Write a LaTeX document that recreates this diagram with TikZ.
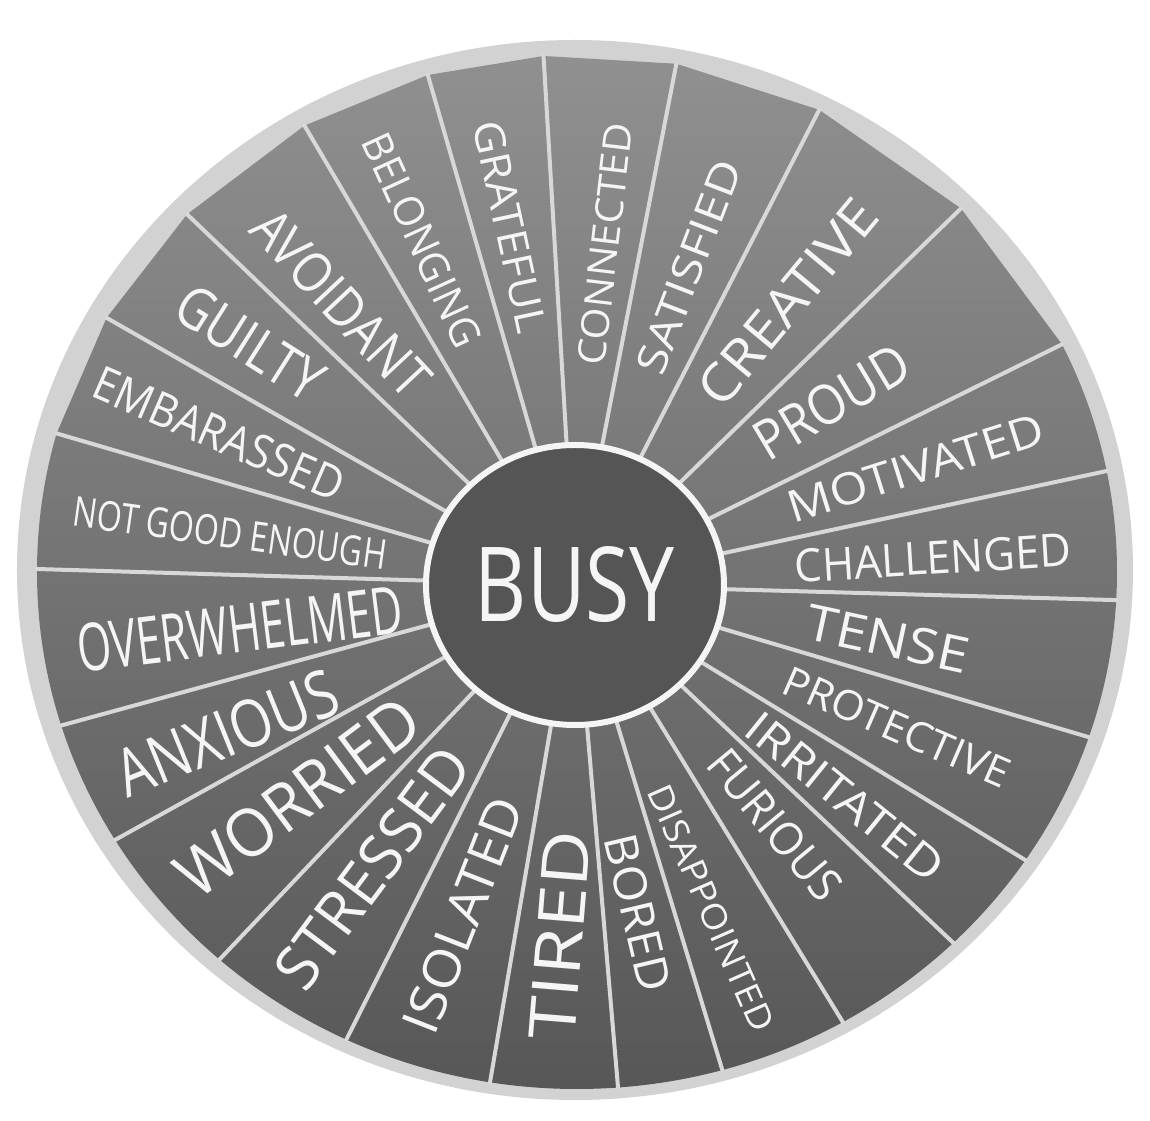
\documentclass[tikz,border=0pt]{standalone}
\usepackage{fontspec}
\usepackage{graphicx}
\usetikzlibrary{intersections,shapes.geometric}
\newfontfamily\wheelfont{Open Sans}
\newlength\pxu
\setlength\pxu{0.01cm}
\definecolor{rimgray}{HTML}{D2D2D2}
\definecolor{sectortop}{HTML}{909090}
\definecolor{sectorbottom}{HTML}{575757}
\definecolor{hubgray}{HTML}{555555}
\definecolor{chalk}{HTML}{F5F5F5}
\definecolor{linegray}{HTML}{D8D8D8}
\newcommand\chalktext[3]{\resizebox{#1\pxu}{#2\pxu}{\wheelfont #3}}

\begin{document}
\begin{tikzpicture}[x=0.01cm,y=0.01cm,
    divider/.style={draw=linegray,line width=4\pxu,line cap=round},
    wheelshade/.style={top color=sectortop,bottom color=sectorbottom},
    hub/.style={ellipse,draw=chalk,line width=6\pxu,fill=hubgray,
      minimum width=298\pxu,minimum height=280\pxu,inner sep=0pt,text=chalk},
    feeling/.style={text=chalk,inner sep=0pt}]
  \useasboundingbox (-575,-536) rectangle (575,585);
  \fill[white] (-575,-536) rectangle (575,585);

  % light rim and dark wheel
  \fill[rimgray] (0,15) ellipse [x radius=558,y radius=530];
  \path[name path=darkedge] (2,13) ellipse [x radius=540,y radius=517];
  \foreach \a [count=\i] in {120.5,106.1,93.4,79,62.8,44.3,26.3,12.1,-1.6,-16.5,-31.4,-43.4,
      -58.5,-73.1,-85.1,-99.7,-116.7,-133.5,-151,-164.7,-181.7,-196.3,-209.7,-223.7}{
    \path[name path=ray] (0,0) -- (\a:800);
    \path[name intersections={of=darkedge and ray,by={v\i}}];
  }
  % flat sector ends at the top, round below
  \begin{scope}
    \clip (v1) \foreach \i in {2,...,24}{ -- (v\i)} -- cycle;
    \shade[wheelshade] (2,13) ellipse [x radius=540,y radius=517];
  \end{scope}
  \begin{scope}
    \clip (v22) -- (v7) -- (700,320) -- (700,-700) -- (-700,-700) -- (-700,130) -- cycle;
    \shade[wheelshade] (2,13) ellipse [x radius=540,y radius=517];
  \end{scope}
  \foreach \i in {1,...,24}
    \draw[divider] (0,0) -- (v\i);

  % centre
  \node[hub] (busy) at (0,0) {\chalktext{200}{75}{BUSY}};

  % feelings, clockwise from the top
  \node[feeling,rotate=-65.4] (belonging) at (-153,345) {\chalktext{230}{30}{BELONGING}};
  \node[feeling,rotate=-77.9] (grateful) at (-65,358) {\chalktext{216}{30}{GRATEFUL}};
  \node[feeling,rotate=83.2] (connected) at (30,341) {\chalktext{243}{28}{CONNECTED}};
  \node[feeling,rotate=69] (satisfied) at (114,318) {\chalktext{225}{30}{SATISFIED}};
  \node[feeling,rotate=50.3] (creative) at (213,283) {\chalktext{250}{38}{CREATIVE}};
  \node[feeling,rotate=30.9] (proud) at (257,183) {\chalktext{171}{40}{PROUD}};
  \node[feeling,rotate=17.5] (motivated) at (341,117) {\chalktext{266}{32}{MOTIVATED}};
  \node[feeling,rotate=3.5] (challenged) at (358,27) {\chalktext{277}{33}{CHALLENGED}};
  \node[feeling,rotate=-12.2] (tense) at (313,-54) {\chalktext{166}{36}{TENSE}};
  \node[feeling,rotate=-23.5] (protective) at (322,-142) {\chalktext{243}{30}{PROTECTIVE}};
  \node[feeling,rotate=-39] (irritated) at (270,-212) {\chalktext{241}{32}{IRRITATED}};
  \node[feeling,rotate=-50.4] (furious) at (200,-240) {\chalktext{181}{33}{FURIOUS}};
  \node[feeling,rotate=-66.3] (disappointed) at (136,-323) {\chalktext{266}{25}{DISAPPOINTED}};
  \node[feeling,rotate=-76.7] (bored) at (63,-328) {\chalktext{160}{33}{BORED}};
  \node[feeling,rotate=85.3] (tired) at (-15,-350) {\chalktext{210}{46}{TIRED}};
  \node[feeling,rotate=68.6] (isolated) at (-112,-330) {\chalktext{249}{37}{ISOLATED}};
  \node[feeling,rotate=53.3] (stressed) at (-202,-283) {\chalktext{284}{44}{STRESSED}};
  \node[feeling,rotate=36.7] (worried) at (-277,-212) {\chalktext{286}{48}{WORRIED}};
  \node[feeling,rotate=22.1] (anxious) at (-348,-148) {\chalktext{234}{48}{ANXIOUS}};
  \node[feeling,rotate=7] (overwhelmed) at (-335,-44) {\chalktext{328}{48}{OVERWHELMED}};
  \node[feeling,rotate=-8] (notgood) at (-345,52) {\chalktext{316}{30}{NOT GOOD ENOUGH}};
  \node[feeling,rotate=-23.5] (embarassed) at (-356,151) {\chalktext{268}{34}{EMBARASSED}};
  \node[feeling,rotate=-32.3] (guilty) at (-325,242) {\chalktext{163}{42}{GUILTY}};
  \node[feeling,rotate=-47] (avoidant) at (-234,282) {\chalktext{233}{40}{AVOIDANT}};
\end{tikzpicture}
\end{document}
